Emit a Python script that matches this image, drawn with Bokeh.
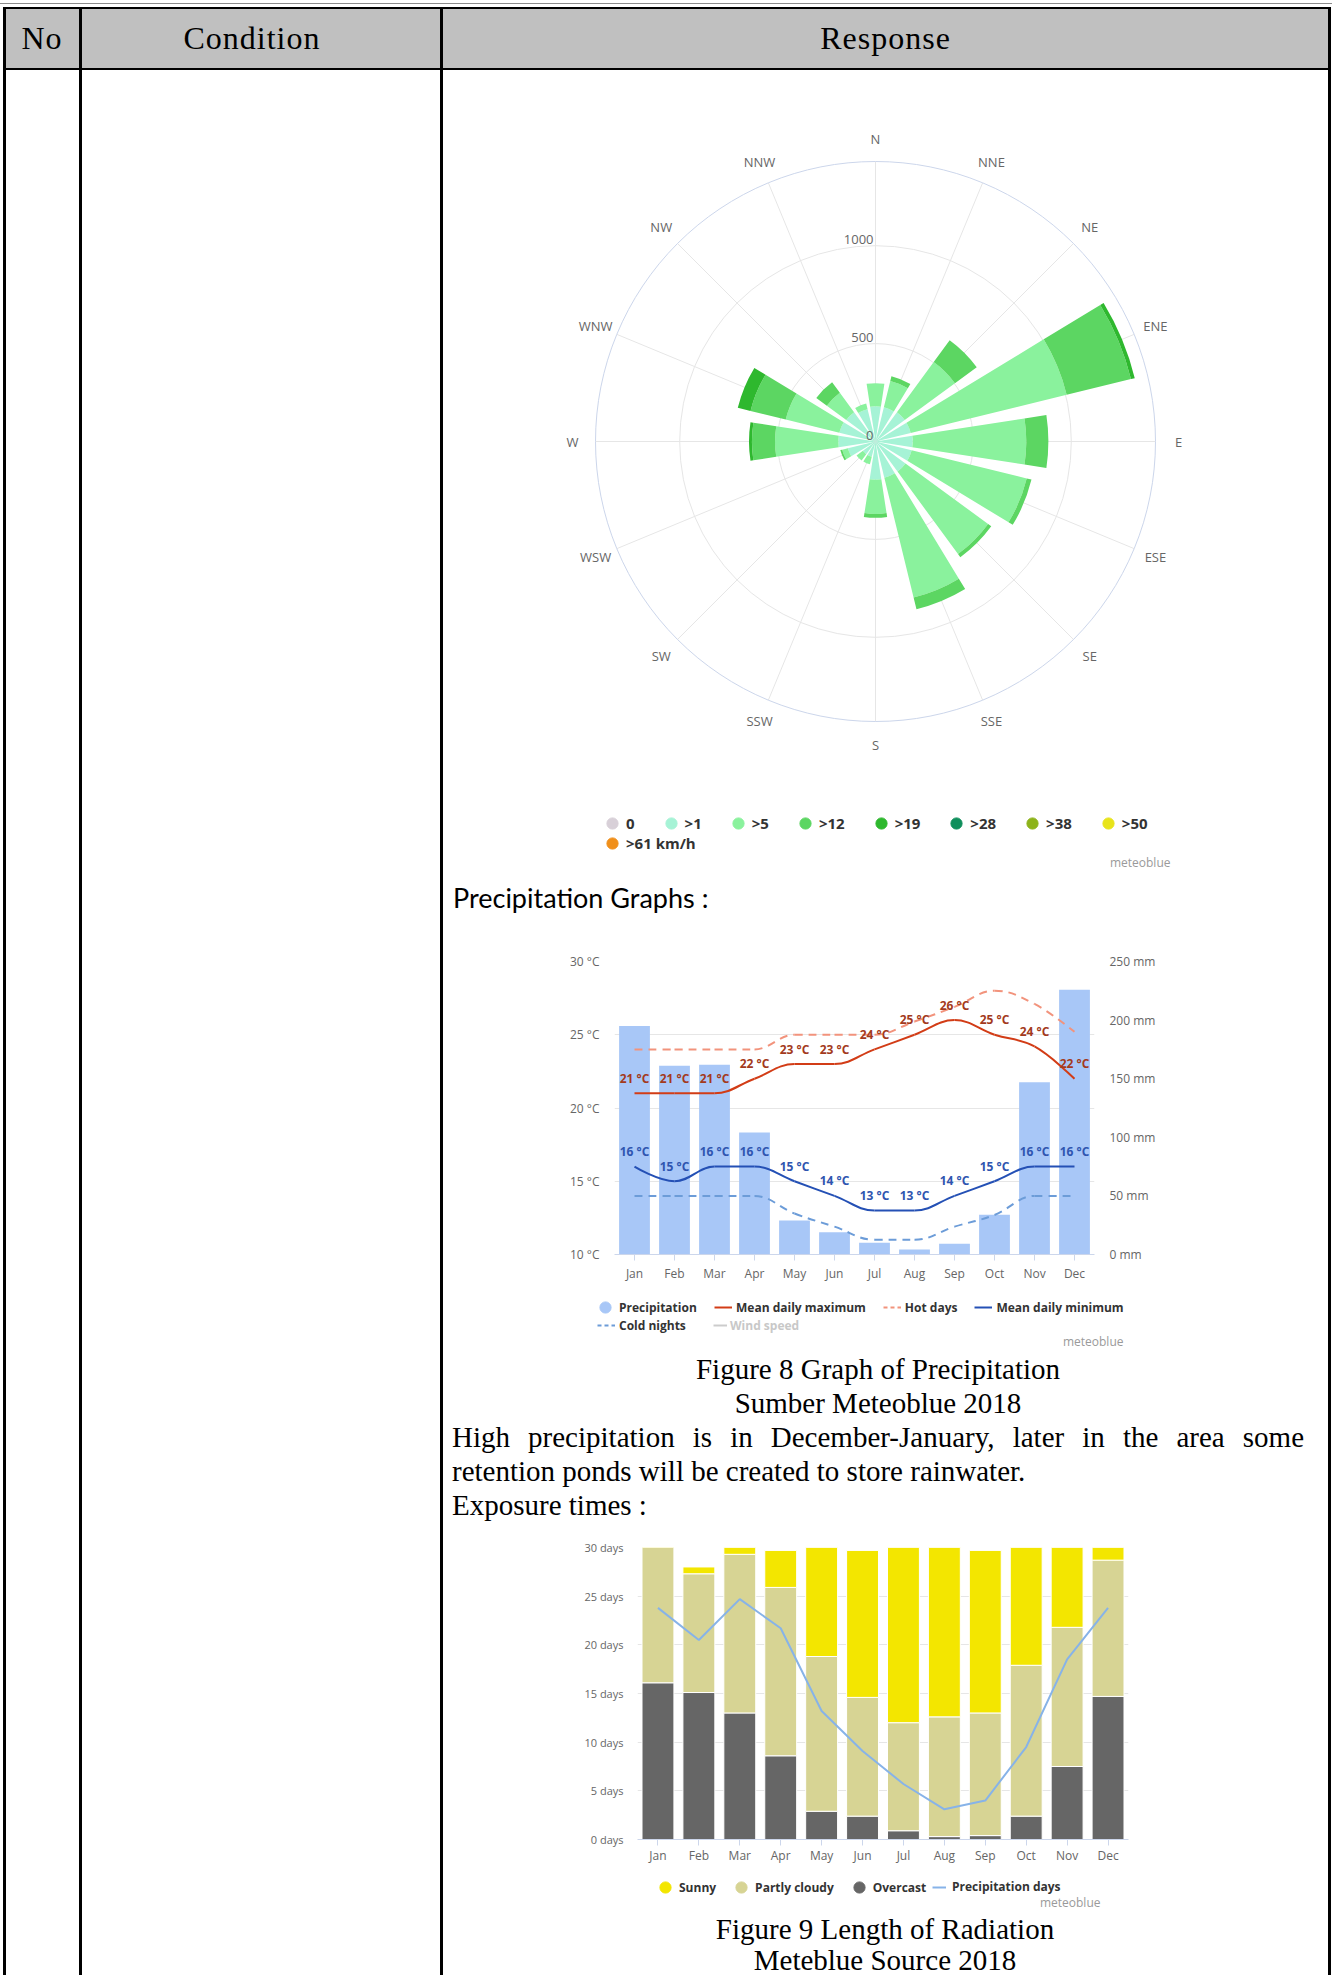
import math
from bokeh.plotting import figure
from bokeh.models import (Range1d, LinearAxis, FixedTicker, Legend, LegendItem, Label, Div,
                          PrintfTickFormatter)
from bokeh.layouts import column, row
from bokeh.embed import file_html
from bokeh.resources import INLINE
from bokeh.core.properties import value

# ------------------------------------------------------------------ data
# Wind rose (meteoblue): 16 directions, stacked speed classes (hours)
directions = ["N", "NNE", "NE", "ENE", "E", "ESE", "SE", "SSE",
              "S", "SSW", "SW", "WSW", "W", "WNW", "NW", "NNW"]
speed_bins = ["0", ">1", ">5", ">12", ">19", ">28", ">38", ">50", ">61 km/h"]
wind_calm = [0, 0, 0, 0, 0, 0, 0, 0, 0, 0, 0, 0, 0, 0, 0, 0]
wind_gt1 = [180, 180, 185, 185, 190, 190, 190, 190, 195, 80, 80, 145, 190, 190, 185, 170]
wind_gt5 = [118, 138, 318, 820, 580, 605, 523, 630, 175, 40, 40, 30, 323, 282, 123, 30]
wind_gt12 = [0, 25, 138, 338, 113, 25, 20, 62, 20, 0, 0, 10, 118, 185, 67, 0]
wind_gt19 = [0, 0, 0, 20, 0, 0, 0, 0, 0, 0, 0, 0, 15, 67, 0, 0]
rose_rings = [500, 1000]
rose_ring_labels = ["0", "500", "1000"]
rose_max = 1430

# Precipitation / temperature
months = ["Jan", "Feb", "Mar", "Apr", "May", "Jun", "Jul", "Aug", "Sep", "Oct", "Nov", "Dec"]
precipitation_mm = [195, 161, 162, 104, 29, 19, 10, 4.3, 9.1, 34, 147, 226]
mean_daily_max = [21, 21, 21, 22, 23, 23, 24, 25, 26, 25, 24.2, 22]
hot_days = [24, 24, 24, 24, 25, 25, 25, 25.9, 26.9, 28, 27.1, 25.2]
mean_daily_min = [16, 15, 16, 16, 15, 14, 13, 13, 14, 15, 16, 16]
cold_nights = [14, 14, 14, 14, 12.8, 11.9, 11, 11, 11.9, 12.7, 14, 14]
temp_ticks = [10, 15, 20, 25, 30]
precip_ticks = [0, 50, 100, 150, 200, 250]

# Sunshine / cloud days
overcast_days = [16.1, 15.1, 13.0, 8.6, 2.9, 2.4, 0.9, 0.3, 0.4, 2.4, 7.5, 14.7]
partly_cloudy_days = [14.9, 12.2, 16.3, 17.3, 15.9, 12.2, 11.1, 12.3, 12.6, 15.5, 14.3, 14.0]
sunny_days = [0.0, 0.7, 1.7, 3.8, 12.2, 15.1, 19.0, 18.4, 16.7, 13.1, 8.2, 2.3]
precipitation_days = [23.8, 20.5, 24.7, 21.7, 13.2, 9.1, 5.7, 3.1, 4.0, 9.5, 18.5, 23.8]
day_ticks = [0, 5, 10, 15, 20, 25, 30]

# ------------------------------------------------------------------ style
UI = "Open Sans"
SERIF = "'Liberation Serif', 'Times New Roman', serif"
bin_colors = ["#d8d0d8", "#a6f3d6", "#8af29d", "#5cd662", "#2eb82e",
              "#0f8f5c", "#8db31a", "#e8e41a", "#f08f1a"]
COLW = 884  # width of the Response column
NAN = [math.nan]  # legend-only renderers draw nothing on the chart itself


def legend_box(items, loc, gw, gh, standoff, spacing, size="12px", color="#333333"):
    return Legend(items=items, location=loc, orientation="horizontal",
                  glyph_width=gw, glyph_height=gh, label_standoff=standoff,
                  spacing=spacing, padding=0, margin=0, label_width=1, label_height=gh,
                  background_fill_alpha=0, border_line_alpha=0,
                  label_text_font=UI, label_text_font_style="bold",
                  label_text_font_size=size, label_text_color=color)


def brand(x, y):
    return Label(x=x, y=y, x_units="screen", y_units="screen", text="meteoblue",
                 text_align="right", text_baseline="middle", text_font=UI,
                 text_font_size="12px", text_color="#9a9a9a")


def blank_fig(h):
    f = figure(width=COLW, height=h, x_range=Range1d(0, 1), y_range=Range1d(0, 1),
               x_axis_type=None, y_axis_type=None, toolbar_location=None,
               output_backend="svg", min_border=0, outline_line_color=None)
    f.grid.visible = False
    return f


def hc_spline(xs, ys, smoothing=1.5):
    n = len(xs)
    den = smoothing + 1.0
    left = [(xs[i], ys[i]) for i in range(n)]
    right = [(xs[i], ys[i]) for i in range(n)]
    for i in range(1, n - 1):
        px, py = xs[i], ys[i]
        lx, ly = xs[i - 1], ys[i - 1]
        nx, ny = xs[i + 1], ys[i + 1]
        lcx = (smoothing * px + lx) / den
        lcy = (smoothing * py + ly) / den
        rcx = (smoothing * px + nx) / den
        rcy = (smoothing * py + ny) / den
        if rcx != lcx:
            corr = ((rcy - lcy) * (rcx - px)) / (rcx - lcx) + py - rcy
            lcy += corr
            rcy += corr
        if lcy > ly and lcy > py:
            lcy = max(ly, py); rcy = 2 * py - lcy
        elif lcy < ly and lcy < py:
            lcy = min(ly, py); rcy = 2 * py - lcy
        if rcy > ny and rcy > py:
            rcy = max(ny, py); lcy = 2 * py - rcy
        elif rcy < ny and rcy < py:
            rcy = min(ny, py); lcy = 2 * py - rcy
        left[i] = (lcx, lcy)
        right[i] = (rcx, rcy)
    return dict(x0=xs[:-1], y0=ys[:-1], x1=xs[1:], y1=ys[1:],
                cx0=[right[i][0] for i in range(n - 1)], cy0=[right[i][1] for i in range(n - 1)],
                cx1=[left[i][0] for i in range(1, n)], cy1=[left[i][1] for i in range(1, n)])


def style_axis(ax, size="12px"):
    ax.axis_line_color = None
    ax.major_tick_line_color = None
    ax.minor_tick_line_color = None
    ax.major_tick_in = 0
    ax.major_tick_out = 0
    ax.minor_tick_out = 0
    ax.major_label_text_font = UI
    ax.major_label_text_font_size = size
    ax.major_label_text_color = "#666666"


# ------------------------------------------------------------------ wind rose
W1, H1 = COLW, 809
cx_px, cy_px = 432, 370
U = rose_max / 280.0
p1 = figure(width=W1, height=H1,
            x_range=Range1d(-cx_px * U, (W1 - cx_px) * U),
            y_range=Range1d(-(H1 - cy_px) * U, cy_px * U),
            x_axis_type=None, y_axis_type=None, toolbar_location=None,
            output_backend="svg", min_border=0, outline_line_color=None)
p1.grid.visible = False

nd = len(directions)
bearing = [i * 360.0 / nd for i in range(nd)]
sin_b = [math.sin(math.radians(b)) for b in bearing]
cos_b = [math.cos(math.radians(b)) for b in bearing]
p1.segment(x0=[0] * nd, y0=[0] * nd, x1=[rose_max * s for s in sin_b],
           y1=[rose_max * c for c in cos_b], line_color="#e6e6e6", line_width=1)
p1.circle(x=[0] * len(rose_rings), y=[0] * len(rose_rings), radius=rose_rings,
          fill_color=None, line_color="#e6e6e6", line_width=1)
p1.circle(x=[0], y=[0], radius=[rose_max], fill_color=None, line_color="#ccd6eb", line_width=1)

half = 0.39 * 360.0 / nd
start_a = [math.radians(90 - b - half) for b in bearing]
end_a = [math.radians(90 - b + half) for b in bearing]
cum = [0] * nd
for vals, col in zip([wind_calm, wind_gt1, wind_gt5, wind_gt12, wind_gt19], bin_colors):
    outer = [c + v for c, v in zip(cum, vals)]
    p1.annular_wedge(x=[0] * nd, y=[0] * nd, inner_radius=cum, outer_radius=outer,
                     start_angle=start_a, end_angle=end_a, direction="anticlock",
                     fill_color=col, line_color=None)
    cum = outer

LR = 303 * U
p1.text(x=[LR * s for s in sin_b], y=[LR * c for c in cos_b], text=directions,
        text_align="center", text_baseline="middle", text_font=value(UI),
        text_font_size="13px", text_color="#666666")
p1.text(x=[0, 0, 0], y=[0] + rose_rings, text=rose_ring_labels, text_align="right",
        text_baseline="middle", x_offset=-2, y_offset=-6, text_font=value(UI),
        text_font_size="13px", text_color="#666666")

leg_r = [p1.scatter(x=NAN, y=NAN, marker="circle", size=10, fill_color=c, line_color=c)
         for c in bin_colors]
items1 = [LegendItem(label=b, renderers=[r]) for b, r in zip(speed_bins[:8], leg_r[:8])]
items2 = [LegendItem(label=speed_bins[8], renderers=[leg_r[8]])]
p1.add_layout(legend_box(items1, (155, 43), 28, 28, 0, 22, "15px"), "center")
p1.add_layout(legend_box(items2, (155, 23), 28, 28, 0, 22, "15px"), "center")
p1.add_layout(brand(727, 18))

# ------------------------------------------------------------------ precipitation chart
xs = [i + 0.5 for i in range(len(months))]
month_labels = {x: m for x, m in zip(xs, months)}

p2 = figure(width=COLW, height=367, x_range=Range1d(0, len(months)), y_range=Range1d(10, 30),
            toolbar_location=None, output_backend="svg", outline_line_color=None,
            min_border_left=171, min_border_right=233, min_border_top=43, min_border_bottom=31)
p2.extra_y_ranges = {"mm": Range1d(0, 250)}
p2.vbar(x=xs, top=precipitation_mm, bottom=0, width=0.77, y_range_name="mm",
        fill_color="#a8c7f7", line_color=None)

series = [(mean_daily_max, "#d23c16", None), (hot_days, "#f2937c", "8 6"),
          (mean_daily_min, "#2450b5", None), (cold_nights, "#6c9cd8", "8 6")]
for vals, col, dash in series:
    sp = hc_spline(xs, vals)
    kw = dict(line_color=col, line_width=2)
    if dash:
        kw["line_dash"] = dash
    p2.bezier(**sp, **kw)

for vals, col in [(mean_daily_max, "#a33a1c"), (mean_daily_min, "#2f55b0")]:
    p2.text(x=xs, y=vals, text=["%d °C" % round(v) for v in vals], text_align="center",
            text_baseline="middle", y_offset=-15, text_font=value(UI),
            text_font_style="bold", text_font_size="12px", text_color=col)

style_axis(p2.yaxis[0])
p2.yaxis[0].ticker = FixedTicker(ticks=temp_ticks)
p2.yaxis[0].formatter = PrintfTickFormatter(format="%d °C")
p2.yaxis[0].major_label_standoff = 15
p2.ygrid.ticker = FixedTicker(ticks=temp_ticks)
p2.ygrid.grid_line_color = "#e6e6e6"
p2.xgrid.grid_line_color = None
ax_r = LinearAxis(y_range_name="mm", ticker=FixedTicker(ticks=precip_ticks),
                  formatter=PrintfTickFormatter(format="%d mm"))
style_axis(ax_r)
ax_r.major_label_standoff = 15
p2.add_layout(ax_r, "right")
xa = p2.xaxis[0]
style_axis(xa)
xa.ticker = FixedTicker(ticks=xs)
xa.major_label_overrides = month_labels
xa.axis_line_color = "#ccd6eb"
xa.major_tick_line_color = "#ccd6eb"
xa.major_tick_out = 6
xa.major_label_standoff = 4

# legend strip of the precipitation chart
q2 = blank_fig(67)
lg_p = q2.scatter(x=NAN, y=NAN, marker="circle", fill_color="#a8c7f7", line_color="#a8c7f7")
lg_max = q2.line(x=NAN, y=NAN, line_color="#d23c16", line_width=2)
lg_hot = q2.line(x=NAN, y=NAN, line_color="#f2937c", line_width=2, line_dash="4 3")
lg_min = q2.line(x=NAN, y=NAN, line_color="#2450b5", line_width=2)
lg_cold = q2.line(x=NAN, y=NAN, line_color="#6c9cd8", line_width=2, line_dash="4 3")
lg_wind = q2.line(x=NAN, y=NAN, line_color="#cccccc", line_width=2)
q2.add_layout(legend_box([LegendItem(label="Precipitation", renderers=[lg_p])],
                         (148, 31), 28, 28, 0, 16), "center")
q2.add_layout(legend_box([LegendItem(label="Mean daily maximum", renderers=[lg_max]),
                          LegendItem(label="Hot days", renderers=[lg_hot]),
                          LegendItem(label="Mean daily minimum", renderers=[lg_min])],
                         (271, 36), 18, 18, 4, 17), "center")
q2.add_layout(legend_box([LegendItem(label="Cold nights", renderers=[lg_cold])],
                         (154, 18), 18, 18, 4, 22), "center")
q2.add_layout(legend_box([LegendItem(label="Wind speed", renderers=[lg_wind])],
                         (270, 18), 14, 18, 3, 22, color="#c8c8c8"), "center")
q2.add_layout(brand(680, 11))

# ------------------------------------------------------------------ radiation chart
p3 = figure(width=COLW, height=348, x_range=Range1d(0, len(months)), y_range=Range1d(0, 30),
            toolbar_location=None, output_backend="svg", outline_line_color=None,
            min_border_left=194, min_border_right=199, min_border_top=25, min_border_bottom=31)
b1 = overcast_days
b2 = [a + b for a, b in zip(b1, partly_cloudy_days)]
b3 = [a + b for a, b in zip(b2, sunny_days)]
p3.vbar(x=xs, bottom=0, top=b1, width=0.78, fill_color="#666666", line_color="white", line_width=1)
p3.vbar(x=xs, bottom=b1, top=b2, width=0.78, fill_color="#d7d494", line_color="white", line_width=1)
p3.vbar(x=xs, bottom=b2, top=b3, width=0.78, fill_color="#f3e600", line_color="white", line_width=1)
p3.line(x=xs, y=precipitation_days, line_color="#87b3e8", line_width=2)

style_axis(p3.yaxis[0], "11px")
p3.yaxis[0].ticker = FixedTicker(ticks=day_ticks)
p3.yaxis[0].formatter = PrintfTickFormatter(format="%d days")
p3.yaxis[0].major_label_standoff = 14
p3.ygrid.ticker = FixedTicker(ticks=day_ticks)
p3.ygrid.grid_line_color = "#e6e6e6"
p3.xgrid.grid_line_color = None
xb = p3.xaxis[0]
style_axis(xb)
xb.ticker = FixedTicker(ticks=xs)
xb.major_label_overrides = month_labels
xb.axis_line_color = "#ccd6eb"
xb.major_tick_line_color = "#ccd6eb"
xb.major_tick_out = 6
xb.major_label_standoff = 1

q3 = blank_fig(42)
lg_s = q3.scatter(x=NAN, y=NAN, marker="circle", fill_color="#f3e600", line_color="#f3e600")
lg_pc = q3.scatter(x=NAN, y=NAN, marker="circle", fill_color="#d7d494", line_color="#d7d494")
lg_oc = q3.scatter(x=NAN, y=NAN, marker="circle", fill_color="#666666", line_color="#666666")
lg_pd = q3.line(x=NAN, y=NAN, line_color="#87b3e8", line_width=2)
q3.add_layout(legend_box([LegendItem(label="Sunny", renderers=[lg_s]),
                          LegendItem(label="Partly cloudy", renderers=[lg_pc]),
                          LegendItem(label="Overcast", renderers=[lg_oc])],
                         (208, 11), 28, 28, 0, 11), "center")
q3.add_layout(legend_box([LegendItem(label="Precipitation days", renderers=[lg_pd])],
                         (489, 17), 14, 16, 6, 10), "center")
q3.add_layout(brand(657, 10))

# ------------------------------------------------------------------ page (table + texts)
def vline(x, top, h):
    return ('<div style="position:absolute;left:%dpx;top:%dpx;width:3px;height:%dpx;'
            'background:#000;"></div>' % (x, top, h))


def fixed(h, w=COLW):
    return {"width": "%dpx" % w, "height": "%dpx" % h, "max-height": "%dpx" % h,
            "overflow": "hidden", "margin": "0px", "padding": "0px"}


head_cell = ('<div style="position:absolute;left:%dpx;width:%dpx;top:8px;height:60px;'
             'line-height:60px;text-align:center;font-size:32px;letter-spacing:1px;">%s</div>')
header_html = (
    '<div style="position:relative;width:1332px;height:71px;margin:0;font-family:%s;color:#000;">' % SERIF
    + '<div style="position:absolute;left:0px;top:3px;width:1332px;height:1px;background:#8c8c8c;"></div>'
    + '<div style="position:absolute;left:3px;top:7px;width:1328px;height:2px;background:#000;"></div>'
    + '<div style="position:absolute;left:3px;top:9px;width:1328px;height:59px;background:#c0c0c0;"></div>'
    + '<div style="position:absolute;left:3px;top:68px;width:1328px;height:2px;background:#000;"></div>'
    + vline(3, 7, 64) + vline(79, 7, 64) + vline(440, 7, 64) + vline(1328, 7, 64)
    + head_cell % (3, 78, "No") + head_cell % (82, 340, "Condition")
    + head_cell % (443, 885, "Response")
    + '</div>')
header = Div(text=header_html, width=1332, height=71, styles=fixed(71, 1332))

BODY_H = 1975 - 71
left_div = Div(text='<div style="position:relative;width:443px;height:%dpx;">' % BODY_H
               + vline(3, 0, BODY_H) + vline(79, 0, BODY_H) + vline(440, 0, BODY_H) + '</div>',
               width=443, height=BODY_H, styles=fixed(BODY_H, 443))
right_div = Div(text='<div style="position:relative;width:5px;height:%dpx;">' % BODY_H
                + vline(1, 0, BODY_H) + '</div>', width=5, height=BODY_H, styles=fixed(BODY_H, 5))

precip_title = Div(text=('<div style="width:%dpx;font-family:Lato,sans-serif;font-size:27px;'
                         'line-height:36px;padding-left:10px;color:#000;white-space:nowrap;">'
                         'Precipitation Graphs :</div>' % (COLW - 10)),
                   width=COLW, height=38, styles=fixed(38))

TW = COLW - 16
para_style = 'width:%dpx;font-family:%s;font-size:29px;line-height:34px;color:#000;' % (TW, SERIF)
para = Div(text=(
    '<div style="%s padding:0 7px 0 9px;">' % para_style
    + '<div style="text-align:center;">Figure 8 Graph of Precipitation</div>'
    + '<div style="text-align:center;">Sumber Meteoblue 2018</div>'
    + '<div style="text-align:justify;text-align-last:justify;">'
      'High precipitation is in December-January, later in the area some</div>'
    + '<div>retention ponds will be created to store rainwater.</div>'
    + '<div>Exposure times :</div>'
    + '</div>'), width=COLW, height=170, styles=fixed(170))

caption2 = Div(text=('<div style="width:%dpx;font-family:%s;font-size:29px;line-height:31px;color:#000;'
                     'padding-top:2px;text-align:center;">' % (COLW, SERIF)
                     + '<div>Figure 9 Length of Radiation</div><div>Meteblue Source 2018</div></div>'),
               width=COLW, height=63, styles=fixed(63))


def box(fig, h):
    return row(fig, width=COLW, height=h, styles=fixed(h))


resp = column(box(p1, 809), precip_title, box(p2, 367), box(q2, 67), para,
              box(p3, 348), box(q3, 42), caption2, spacing=0, width=COLW, height=BODY_H)
body = row(left_div, resp, right_div, spacing=0, width=1332, height=BODY_H)
# an explicit zero margin on the root removes the default 8px offset of the page
page = column(header, body, spacing=0, width=1332, height=1975,
              styles={"margin": "0px"})

open("out.html", "w").write(file_html(page, INLINE))
